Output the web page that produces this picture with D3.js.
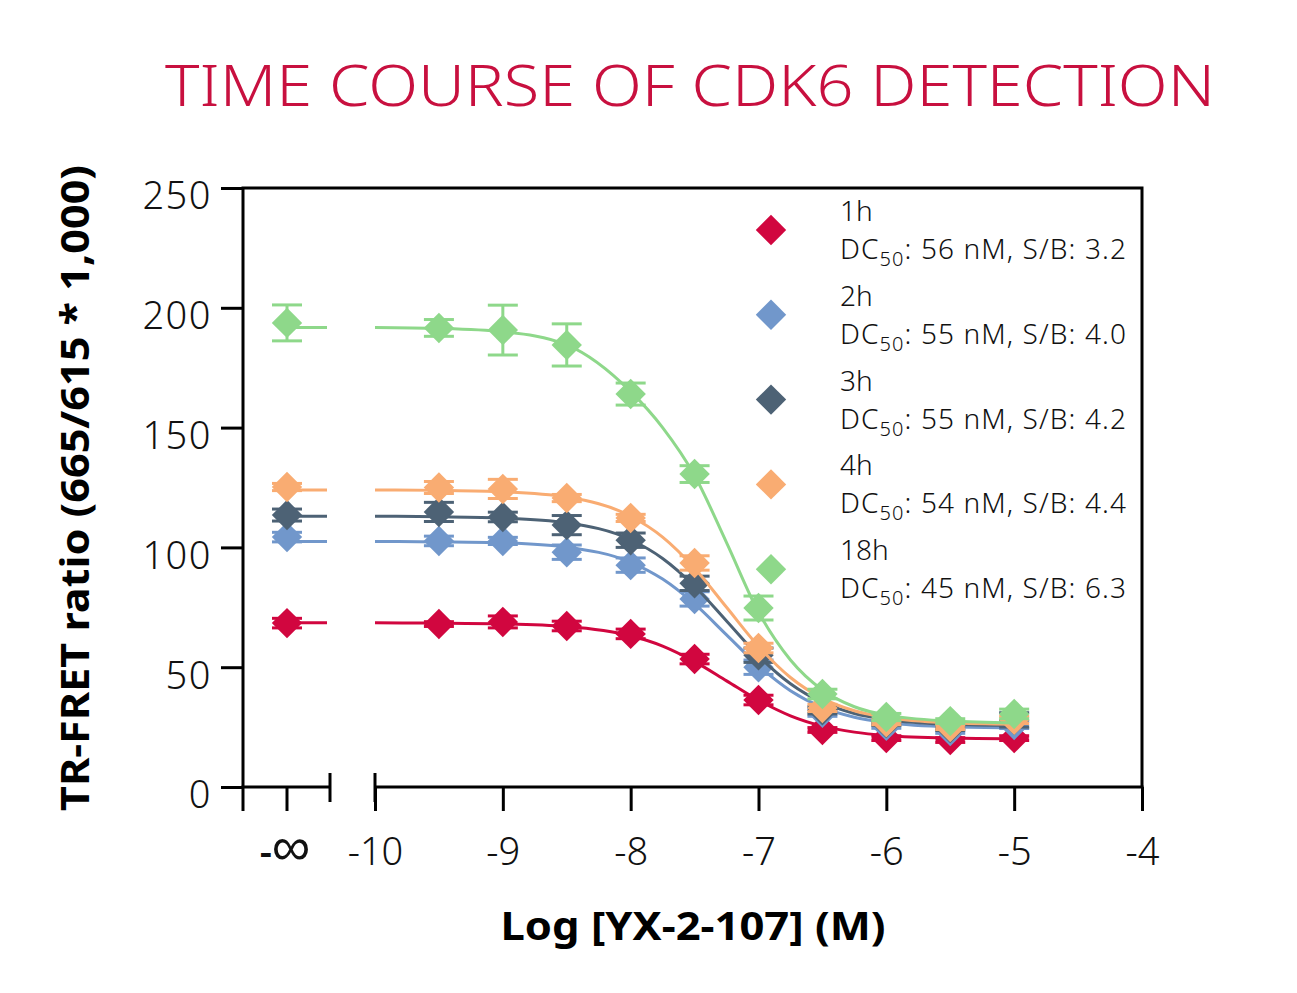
<!DOCTYPE html>
<html>
<head>
<meta charset="utf-8">
<script src="https://cdn.jsdelivr.net/npm/d3@7"></script>
<style>
  body { margin: 0; background: #fff; }
  svg text { font-family: "Noto Sans", "Open Sans", sans-serif; }
</style>
</head>
<body>
<div id="vis"></div>
<script>
// x positions of the measured points (log M); -Infinity is the vehicle control
const doses = [-Infinity, -9.5, -9, -8.5, -8, -7.5, -7, -6.5, -6, -5.5, -5];
// x positions of the fitted curve samples
const fitX = [-10, -9.5, -9, -8.5, -8, -7.75, -7.5, -7.25, -7, -6.75, -6.5, -6.25, -6, -5.5, -5];

const seriesNames = ["1h", "2h", "3h", "4h", "18h"];
const seriesDC50 = ["56", "55", "55", "54", "45"];
const seriesSB = ["3.2", "4.0", "4.2", "4.4", "6.3"];
const seriesColors = ["#d1063f", "#7197cb", "#4d6275", "#f9ac72", "#8ed88a"];

const values1h = [68.4, 68, 68.9, 67.2, 63.9, 53.4, 36.3, 23.8, 20.4, 19.6, 20.4];
const values2h = [104.3, 102.7, 102.7, 98, 92.6, 78.5, 50, 31, 25.5, 23.4, 25.9];
const values3h = [113.5, 114.8, 112.7, 109.3, 103, 85, 55, 32, 26.7, 24.6, 28];
const values4h = [125.2, 125, 124.4, 120.6, 112.3, 93.5, 58, 33, 27, 25, 28];
const values18h = [193.7, 191.6, 190.7, 184.5, 164, 130.6, 74.7, 38.8, 29.2, 27.5, 30.5];

const errors1h = [2, 1, 2.5, 2, 2, 2, 2, 1, 1, 1, 1];
const errors2h = [2, 2, 1.5, 3, 3, 3, 3, 1.5, 1, 1, 1.5];
const errors3h = [2.5, 4, 2, 4, 3, 3, 3, 1.5, 1, 1, 3];
const errors4h = [1.5, 2.5, 4, 1.5, 1.5, 3, 2, 1.5, 1, 1, 1.5];
const errors18h = [7.5, 3.5, 10.4, 8.8, 4.6, 3.5, 5, 2, 1.5, 1, 2];

const fit1h = [68.5, 68.4, 68.1, 67.0, 63.1, 58.8, 52.3, 44.3, 36.2, 29.7, 25.4, 22.9, 21.5, 20.4, 20.1];
const fit2h = [102.5, 102.3, 101.9, 100.1, 93.8, 86.8, 76.4, 63.5, 50.6, 40.2, 33.2, 29.1, 26.9, 25.1, 24.7];
const fit3h = [113, 112.8, 112.3, 110.3, 103.2, 95.4, 83.8, 69.3, 54.7, 43.1, 35.3, 30.7, 28.2, 26.2, 25.7];
const fit4h = [124, 123.8, 123.2, 121, 113, 104.3, 91.3, 75, 58.7, 45.7, 37, 31.8, 29, 26.8, 26.2];
const fit18h = [191.8, 191.4, 190, 184.5, 165, 150, 130, 102, 73, 53, 40.5, 33.5, 30, 27.5, 26.7];

const yTicks = [0, 50, 100, 150, 200, 250];
const xTicks = [-10, -9, -8, -7, -6, -5, -4];

const allValues = [values1h, values2h, values3h, values4h, values18h];
const allErrors = [errors1h, errors2h, errors3h, errors4h, errors18h];
const allFits = [fit1h, fit2h, fit3h, fit4h, fit18h];

const WIDTH = 1297;
const HEIGHT = 993;
const PLOT = { LEFT: 243, RIGHT: 1142, TOP: 188, BOTTOM: 787 };
const INF_X = 287;   // where the -inf column sits
const BREAK_L = 330; // end of the left axis segment
const BREAK_R = 375; // start of the main axis segment

const svg = d3.select("#vis").append("svg")
  .attr("width", WIDTH)
  .attr("height", HEIGHT);

const xScale = d3.scaleLinear().domain([-10, -4]).range([BREAK_R, PLOT.RIGHT]);
const yScale = d3.scaleLinear().domain([0, 250]).range([PLOT.BOTTOM, PLOT.TOP]);
const xPos = (d) => (d === -Infinity ? INF_X : xScale(d));

// title
svg.append("text")
  .attr("x", 690).attr("y", 106)
  .attr("text-anchor", "middle")
  .attr("font-size", 57)
  .attr("font-weight", 300)
  .attr("fill", "#c8103f")
  .attr("textLength", 1050)
  .attr("lengthAdjust", "spacingAndGlyphs")
  .text("TIME COURSE OF CDK6 DETECTION");

// frame: top, right, left
svg.append("path")
  .attr("d", `M${PLOT.LEFT},${PLOT.BOTTOM}V${PLOT.TOP}H${PLOT.RIGHT}V${PLOT.BOTTOM}`)
  .attr("fill", "none").attr("stroke", "#000").attr("stroke-width", 3);

// y axis
const yAxis = svg.append("g")
  .attr("transform", `translate(${PLOT.LEFT},0)`)
  .call(d3.axisLeft(yScale).tickValues(yTicks).tickSize(22).tickPadding(9));
yAxis.select(".domain").remove();
yAxis.selectAll("line").attr("stroke-width", 3);
yAxis.selectAll("text")
  .attr("font-size", 38)
  .attr("font-weight", 300)
  .attr("font-family", "'Noto Sans', sans-serif")
  .attr("dy", "0.55em")
  .attr("letter-spacing", 1.5)
  .attr("fill", "#111");

// bottom axis: main segment
const xAxis = svg.append("g")
  .attr("transform", `translate(0,${PLOT.BOTTOM})`)
  .call(d3.axisBottom(xScale).tickValues(xTicks).tickFormat(d3.format("d")).tickSize(24).tickPadding(27));
xAxis.select(".domain").remove();
xAxis.selectAll("line").attr("stroke-width", 3);
xAxis.selectAll("text")
  .attr("font-size", 38)
  .attr("font-weight", 300)
  .attr("font-family", "'Noto Sans', sans-serif")
  .attr("fill", "#111")
  .text((d) => "-" + Math.abs(d));

const axisG = svg.append("g").attr("stroke", "#000").attr("stroke-width", 3);
axisG.append("line")
  .attr("x1", PLOT.LEFT - 1.5).attr("x2", BREAK_L)
  .attr("y1", PLOT.BOTTOM).attr("y2", PLOT.BOTTOM);
axisG.append("line")
  .attr("x1", BREAK_R).attr("x2", PLOT.RIGHT + 1.5)
  .attr("y1", PLOT.BOTTOM).attr("y2", PLOT.BOTTOM);
// break marks and left ticks
[BREAK_L, BREAK_R].forEach((bx) => {
  axisG.append("line")
    .attr("x1", bx).attr("x2", bx)
    .attr("y1", PLOT.BOTTOM - 14).attr("y2", PLOT.BOTTOM + 15);
});
[PLOT.LEFT, INF_X].forEach((tx) => {
  axisG.append("line")
    .attr("x1", tx).attr("x2", tx)
    .attr("y1", PLOT.BOTTOM).attr("y2", PLOT.BOTTOM + 24);
});
const infLabel = svg.append("text")
  .attr("x", INF_X - 2).attr("y", 865)
  .attr("text-anchor", "middle")
  .attr("font-size", 38)
  .attr("fill", "#111");
infLabel.append("tspan").attr("font-weight", 600).text("-");
infLabel.append("tspan").attr("font-size", 54).attr("font-family", "'DejaVu Sans', sans-serif").attr("font-weight", 300).text("\u221e");

// axis titles
svg.append("text")
  .attr("x", 693).attr("y", 940)
  .attr("text-anchor", "middle")
  .attr("font-size", 40)
  .attr("font-weight", 700)
  .attr("textLength", 385)
  .attr("lengthAdjust", "spacingAndGlyphs")
  .text("Log [YX-2-107] (M)");

svg.append("text")
  .attr("transform", "translate(89,488) rotate(-90)")
  .attr("text-anchor", "middle")
  .attr("font-size", 39)
  .attr("font-weight", 700)
  .attr("textLength", 646)
  .attr("lengthAdjust", "spacingAndGlyphs")
  .text("TR-FRET ratio (665/615 * 1,000)");

// d3's diamond2 half-diagonal is 0.62625 * sqrt(size); aim for ~15px
const diamond = d3.symbol().type(d3.symbolDiamond2).size(590);

const line = d3.line()
  .x((d) => xScale(d[0]))
  .y((d) => yScale(d[1]))
  .curve(d3.curveMonotoneX);

seriesNames.forEach((name, s) => {
  const color = seriesColors[s];
  const g = svg.append("g").attr("class", "series-" + name);
  const fit = allFits[s];

  // fitted curve
  g.append("path")
    .datum(fitX.map((x, i) => [x, fit[i]]))
    .attr("d", line)
    .attr("fill", "none")
    .attr("stroke", color)
    .attr("stroke-width", 3);

  // short plateau line in the -inf column
  g.append("line")
    .attr("x1", INF_X).attr("x2", BREAK_L - 3)
    .attr("y1", yScale(fit[0])).attr("y2", yScale(fit[0]))
    .attr("stroke", color).attr("stroke-width", 3);

  const pts = doses.map((x, i) => ({ x: x, v: allValues[s][i], e: allErrors[s][i] }));

  // error bars
  const eb = g.append("g").attr("stroke", color).attr("stroke-width", 3);
  pts.forEach((p) => {
    const cx = xPos(p.x);
    eb.append("line")
      .attr("x1", cx).attr("x2", cx)
      .attr("y1", yScale(p.v - p.e)).attr("y2", yScale(p.v + p.e));
    [p.v - p.e, p.v + p.e].forEach((v) => {
      eb.append("line")
        .attr("x1", cx - 15).attr("x2", cx + 15)
        .attr("y1", yScale(v)).attr("y2", yScale(v));
    });
  });

  // markers
  g.selectAll("path.marker")
    .data(pts)
    .enter()
    .append("path")
    .attr("class", "marker")
    .attr("d", diamond)
    .attr("transform", (d) => `translate(${xPos(d.x)},${yScale(d.v)})`)
    .attr("fill", color);
});

// legend
const legend = svg.append("g").attr("class", "legend");
seriesNames.forEach((name, s) => {
  const cy = 230 + s * 84.8;
  legend.append("path")
    .attr("d", diamond)
    .attr("transform", `translate(771,${cy})`)
    .attr("fill", seriesColors[s]);
  legend.append("text")
    .attr("x", 840).attr("y", cy - 9)
    .attr("font-size", 28)
    .attr("font-weight", 300)
    .attr("fill", "#111")
    .text(name);
  const t = legend.append("text")
    .attr("x", 840).attr("y", cy + 29)
    .attr("font-size", 28)
    .attr("font-weight", 300)
    .attr("letter-spacing", 1.1)
    .attr("fill", "#111");
  t.append("tspan").text("DC");
  t.append("tspan").attr("font-size", 20).attr("dy", 7).text("50");
  t.append("tspan").attr("dy", -7).text(`: ${seriesDC50[s]} nM, S/B: ${seriesSB[s]}`);
});
</script>
</body>
</html>
